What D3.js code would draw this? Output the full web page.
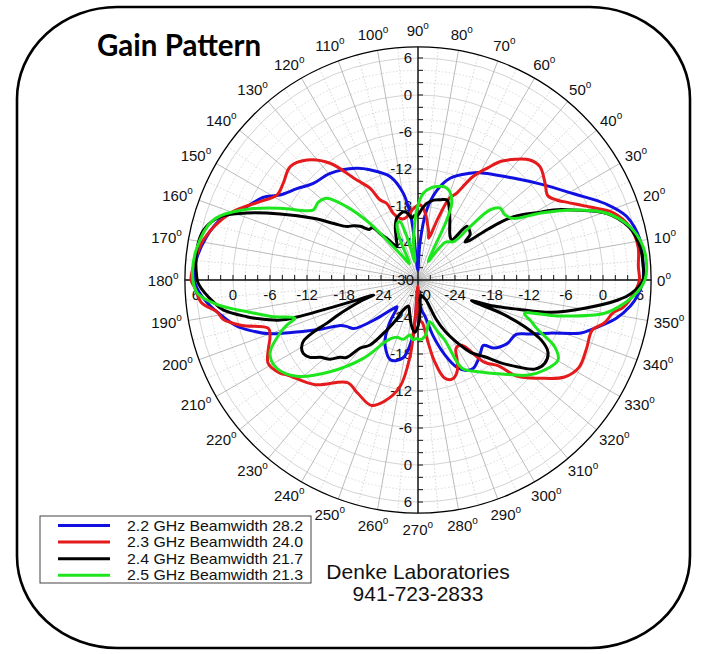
<!DOCTYPE html>
<html>
<head>
<meta charset="utf-8">
<script src="https://cdn.jsdelivr.net/npm/d3@7"></script>
<style>
  html, body { margin: 0; padding: 0; background: #fff; }
  svg { display: block; }
</style>
</head>
<body>
<svg id="chart" width="701" height="654"></svg>
<script>
// ---------- data (angle in degrees CCW from 0°, gain in dB) ----------
const seriesNames = ["2.2 GHz Beamwidth 28.2", "2.3 GHz Beamwidth 24.0", "2.4 GHz Beamwidth 21.7", "2.5 GHz Beamwidth 21.3"];
const seriesColors = ["#1010e0", "#e41a1c", "#000000", "#1ee61e"];

const blue22 = [[0,6.5],[5,6.6],[10.2,6.6],[17,5.35],[22,2.9],[29,-1.15],[38,-4.75],[47,-7.4],[60,-9.9],[64,-10.75],[72.5,-12.7],[78,-15.1],[83,-18.6],[87,-24],[91,-28.4],[94,-27.5],[95.5,-22],[96.5,-19.5],[99.6,-15.75],[105,-12.65],[113.6,-10.5],[119,-9.3],[129.5,-7.6],[137.3,-6.9],[143,-5.4],[148.4,-3.7],[152,-1.5],[156.8,0.2],[160.5,2.3],[163.1,3.55],[168.4,5.0],[174.8,6.1],[180,6.3],[183,5.6],[187,4.0],[191,2.0],[194,0.5],[197,-1.8],[200,-4.5],[204,-9.5],[207,-12.5],[210,-15.2],[213,-16.2],[217,-16.9],[223,-20.8],[228,-23.5],[232,-24.5],[236,-22],[240,-19.5],[244,-17.9],[251,-16.3],[259,-17.1],[264,-20.2],[266,-24],[268.5,-28],[273,-26.5],[277,-25],[281,-24],[285,-20.7],[290,-16.9],[294,-14.5],[298,-13.4],[302,-13.1],[307,-13.8],[311,-14.5],[315,-15],[318,-13.5],[321,-12.8],[325,-12.2],[331,-11.8],[334,-10],[338,-7],[342,-2.2],[344,-0.8],[349,2.7],[353,4.7],[356,5.7]];

const red23 = [[0,5.9],[3.5,5.8],[8.6,6.1],[14,5.45],[19,3.5],[23,0.3],[28.3,-3.2],[30,-4.05],[33,-4.9],[37.3,-4.1],[42.9,-3.0],[47,-3.4],[51,-4.8],[55,-6.5],[58,-8.5],[62,-11],[66,-14.6],[69,-15.8],[72,-19.5],[74.5,-22.5],[75.8,-23],[77.5,-22],[80,-21],[84,-19],[88.5,-17.8],[93.7,-18.4],[97,-19.1],[100,-19.6],[104,-19.8],[106.3,-19.6],[110.3,-18.5],[112.2,-16.6],[115.4,-15.6],[117.6,-13.2],[121.5,-11.0],[127,-6.3],[132.8,-3.5],[138.5,-2.3],[144.3,-3.1],[149,-3.3],[153.6,-1.4],[160.5,2.35],[169.4,5.4],[176.6,6.5],[180,6.8],[182,6.2],[186,5.3],[189,3.0],[191.5,2.2],[194.5,-0.5],[197.9,-4.5],[201,-4.3],[205,-3.2],[209.1,-2.2],[214,-3.0],[216,-3.8],[225.5,-6.2],[235.5,-9.8],[242,-9.2],[249.5,-8.3],[254.5,-9.6],[260.4,-12.45],[264,-17.5],[265.8,-23.5],[268.5,-29],[272.9,-23.5],[276,-23],[279,-20],[281.5,-16.5],[285,-13.6],[289,-13.0],[293,-13.8],[296,-15.5],[299,-17.3],[303,-17.4],[305,-16.8],[309,-12.8],[313,-11],[316,-7.5],[321,-4.7],[326.5,-1.5],[331.5,-0.3],[338,-0.5],[344,-0.6],[347,1.0],[350.5,2.1],[352.5,3.6],[357.5,5.4]];

const black24 = [[0,6.5],[3.3,6.6],[8.5,6.4],[14,5.3],[19.5,2.4],[24.3,-2.4],[27.4,-5.3],[29,-7.3],[33.6,-11.5],[36,-16],[37.5,-19.5],[39,-20.2],[41,-18.8],[43,-18.5],[47.5,-18.2],[50,-21.5],[53,-21.3],[56,-20.8],[62,-19],[66,-17.5],[70,-16.2],[74.6,-16.5],[79,-16.8],[83.5,-17.5],[87,-18.5],[90,-19.45],[93,-19.5],[95.8,-19.9],[99,-19],[102,-18.7],[106,-19],[109,-19.4],[113,-20.6],[118,-22.5],[122.6,-23.6],[126,-22],[129,-20.5],[131,-18.7],[134,-18.6],[137,-17.2],[140,-16.3],[143,-15.6],[146,-13.7],[149.5,-10.3],[154.4,-5.2],[158.6,-0.2],[162.3,3.7],[166.9,5.7],[172.3,6.2],[179,5.9],[181,5.6],[186.5,3.2],[188.8,1.9],[192.1,-1.6],[193.4,-3.1],[196.2,-6.7],[197,-9.5],[197.5,-14],[198,-18.5],[198.6,-22.4],[200,-20.5],[202,-18],[203.5,-16],[205.4,-13.6],[206.5,-11],[208,-9],[210,-8.2],[212.6,-7.9],[215.6,-8.45],[218.3,-9.8],[222,-10.8],[224.7,-12.2],[227.3,-12.9],[229.7,-15.5],[233.6,-16.9],[238,-20.4],[241,-22.5],[244,-24.6],[250,-25.5],[256,-24.4],[262,-22.5],[266.5,-21.5],[270,-22.5],[274,-25],[280,-27.5],[288,-27],[292,-26.5],[294.8,-23],[298,-20.5],[302.3,-17.85],[306,-15.5],[311,-13.5],[315,-11],[319,-8.5],[322.6,-6.2],[326.7,-5.4],[331,-5.9],[334,-7.75],[336.4,-11.1],[338.2,-15.4],[338.8,-20.7],[341,-17],[343.7,-13.1],[346.4,-7.75],[350.4,-2.6],[354.3,2.6],[356.4,4.65]];

const green25 = [[0,6.8],[3.3,7.15],[8.4,6.9],[14.1,5.45],[19.5,2.45],[24.3,-2.4],[28.7,-7.45],[32.9,-11.6],[37,-12.4],[41.2,-12.3],[44.2,-13.7],[45.7,-17.9],[47,-21.5],[51,-22],[54.3,-22.5],[58,-25],[61,-26.6],[62.8,-25.75],[64.4,-19.2],[66.3,-16.4],[70.1,-14.8],[74,-14.3],[78.7,-14.55],[82,-14.9],[86.5,-15.9],[91.1,-18.65],[94,-21.5],[96.5,-23.5],[100,-27],[103,-24.5],[105,-22],[107.2,-20.1],[110,-20.2],[112,-21],[114,-23],[118,-27],[123,-25.5],[126.6,-23.3],[129,-20.2],[130.3,-18],[134.2,-13.4],[138.2,-10.1],[142,-9.5],[146,-9.6],[148.1,-8.75],[152.5,-4.8],[157.6,0.05],[163.7,4.6],[172.3,6.3],[180,6.5],[183.5,5.8],[187,2.8],[191,-2.4],[194,-5.5],[197.3,-9.1],[199,-7.5],[201.1,-6.0],[206.4,-3.2],[212,-3.0],[218.4,-4.9],[226.2,-9.4],[235.1,-14.5],[241.3,-18.3],[245,-19.5],[249.6,-20.1],[256.1,-20.1],[261.7,-21],[265,-20.3],[268.7,-20.5],[272,-20.3],[276.7,-20.75],[281,-22],[285,-23],[288,-22.5],[291,-21],[294,-19.35],[295.6,-15],[297,-13.8],[303.2,-12.2],[311.6,-9.6],[319.2,-6.4],[324.6,-4.8],[330.3,-3.85],[334,-5.35],[337.4,-8.9],[340,-10.5],[342.6,-11.9],[345.6,-6.55],[349.9,0.75],[353.6,3.7],[357,5.7]];

const seriesData = [blue22, red23, black24, green25];

const radialTickLabels = [6, 0, -6, -12, -18, -24];
const angleTickLabels = d3.range(0, 360, 10);
const titleText = "Gain Pattern";
const footerLines = ["Denke Laboratories", "941-723-2833"];

// ---------- layout ----------
const svg = d3.select("#chart");
const cx = 418, cy = 280;
const rMin = -30, rTickMax = 6, rOuterVal = 7.8;
const r = d3.scaleLinear().domain([rMin, rTickMax]).range([0, 222]);
const Rout = r(rOuterVal);
const rad = d => d * Math.PI / 180;

// frame
svg.append("rect").attr("x", 17).attr("y", 7).attr("width", 673).attr("height", 641)
  .attr("rx", 100).attr("ry", 92).attr("fill", "#fff").attr("stroke", "#000").attr("stroke-width", 2.6);

const g = svg.append("g").attr("transform", `translate(${cx},${cy})`);

// grid circles
const circleVals = d3.range(-28, 7, 2);
g.selectAll("circle.grid").data(circleVals).join("circle")
  .attr("r", d => r(d)).attr("fill", "none")
  .attr("stroke", d => d % 6 === 0 ? "#c8c8c8" : "#d0d0d0")
  .attr("stroke-width", 0.8)
  .attr("stroke-dasharray", d => d % 6 === 0 ? null : "1.5,2");

// radial spokes
const spokes = d3.range(0, 360, 5);
g.selectAll("line.spoke").data(spokes).join("line")
  .attr("x1", 0).attr("y1", 0)
  .attr("x2", d => Rout * Math.cos(rad(d)))
  .attr("y2", d => -Rout * Math.sin(rad(d)))
  .attr("stroke", d => d % 10 === 0 ? "#aaaaaa" : "#cccccc")
  .attr("stroke-width", 0.8)
  .attr("stroke-dasharray", d => d % 10 === 0 ? null : "1.5,2");

// outer circle
g.append("circle").attr("r", Rout).attr("fill", "none").attr("stroke", "#000").attr("stroke-width", 1.3);

// axes
g.append("line").attr("x1", -Rout).attr("x2", Rout).attr("y1", 0).attr("y2", 0).attr("stroke", "#111").attr("stroke-width", 1.4);
g.append("line").attr("y1", -Rout).attr("y2", Rout).attr("x1", 0).attr("x2", 0).attr("stroke", "#111").attr("stroke-width", 1.4);

// ticks every 2 dB
const tickVals = d3.range(-28, 7, 2);
tickVals.forEach(v => {
  const rr = r(v);
  [-1, 1].forEach(s => {
    g.append("line").attr("x1", s * rr).attr("x2", s * rr).attr("y1", 0).attr("y2", -5).attr("stroke", "#111").attr("stroke-width", 1);
    g.append("line").attr("y1", s * rr).attr("y2", s * rr).attr("x1", 0).attr("x2", 5).attr("stroke", "#111").attr("stroke-width", 1);
  });
});

const numFont = "'Liberation Sans', Arial, sans-serif";
// radial tick labels
radialTickLabels.forEach(v => {
  const rr = r(v);
  [-1, 1].forEach(s => {
    g.append("text").attr("x", -6).attr("y", s * rr).attr("dy", "0.35em")
      .attr("text-anchor", "end").attr("font-family", numFont).attr("font-size", 15).attr("fill", "#111").text(v);
    g.append("text").attr("x", s * rr).attr("y", 20)
      .attr("text-anchor", "middle").attr("font-family", numFont).attr("font-size", 15).attr("fill", "#111").text(v);
  });
});
g.append("text").attr("x", -4).attr("y", 0).attr("dy", "0.35em").attr("text-anchor", "end")
  .attr("font-family", numFont).attr("font-size", 15).attr("fill", "#111").text(rMin);
g.append("text").attr("x", 2).attr("y", 20).attr("text-anchor", "middle")
  .attr("font-family", numFont).attr("font-size", 15).attr("fill", "#111").text(rMin);

// angle labels
angleTickLabels.forEach(a => {
  const t = svg.append("text").attr("font-family", numFont).attr("font-size", 15).attr("fill", "#111");
  t.append("tspan").text(a);
  t.append("tspan").attr("font-size", 10).attr("dy", -7).text("o");
  const bb = t.node().getBBox();
  const c = Math.cos(rad(a)), s = Math.sin(rad(a));
  const gap = 6 + 3 * Math.abs(s);
  const px = cx + (Rout + gap) * c, py = cy - (Rout + gap) * s;
  const mx = px + c * bb.width / 2, my = py - s * 15 / 2;
  t.attr("x", mx - bb.width / 2).attr("y", my + 5.5);
});

// curves
const line = d3.lineRadial()
  .angle(d => rad(90 - d[0]))
  .radius(d => r(Math.max(rMin, d[1])))
  .curve(d3.curveCatmullRomClosed.alpha(0.5));

seriesData.forEach((data, i) => {
  g.append("path").datum(data).attr("d", line)
    .attr("fill", "none").attr("stroke", seriesColors[i]).attr("stroke-width", 3)
    .attr("stroke-linejoin", "round");
});

// title
svg.append("text").attr("x", 97).attr("y", 56).attr("font-family", "Lato, 'Open Sans', sans-serif")
  .attr("font-weight", "bold").attr("font-size", 29.5).attr("fill", "#000").text(titleText);

// legend
const lg = svg.append("g");
lg.append("rect").attr("x", 40).attr("y", 516).attr("width", 271).attr("height", 67)
  .attr("fill", "#fff").attr("stroke", "#444").attr("stroke-width", 1);
seriesNames.forEach((name, i) => {
  const y = 525.5 + i * 16.6;
  lg.append("line").attr("x1", 58).attr("x2", 110).attr("y1", y).attr("y2", y)
    .attr("stroke", seriesColors[i]).attr("stroke-width", 3);
  lg.append("text").attr("x", 127).attr("y", y).attr("dy", "0.36em")
    .attr("font-family", numFont).attr("font-size", 14.2).attr("fill", "#111")
    .attr("textLength", 176).attr("lengthAdjust", "spacingAndGlyphs").text(name);
});

// footer
footerLines.forEach((txt, i) => {
  svg.append("text").attr("x", 418).attr("y", 579 + i * 22).attr("text-anchor", "middle")
    .attr("font-family", numFont).attr("font-size", 21).attr("fill", "#111").text(txt);
});
</script>
</body>
</html>
